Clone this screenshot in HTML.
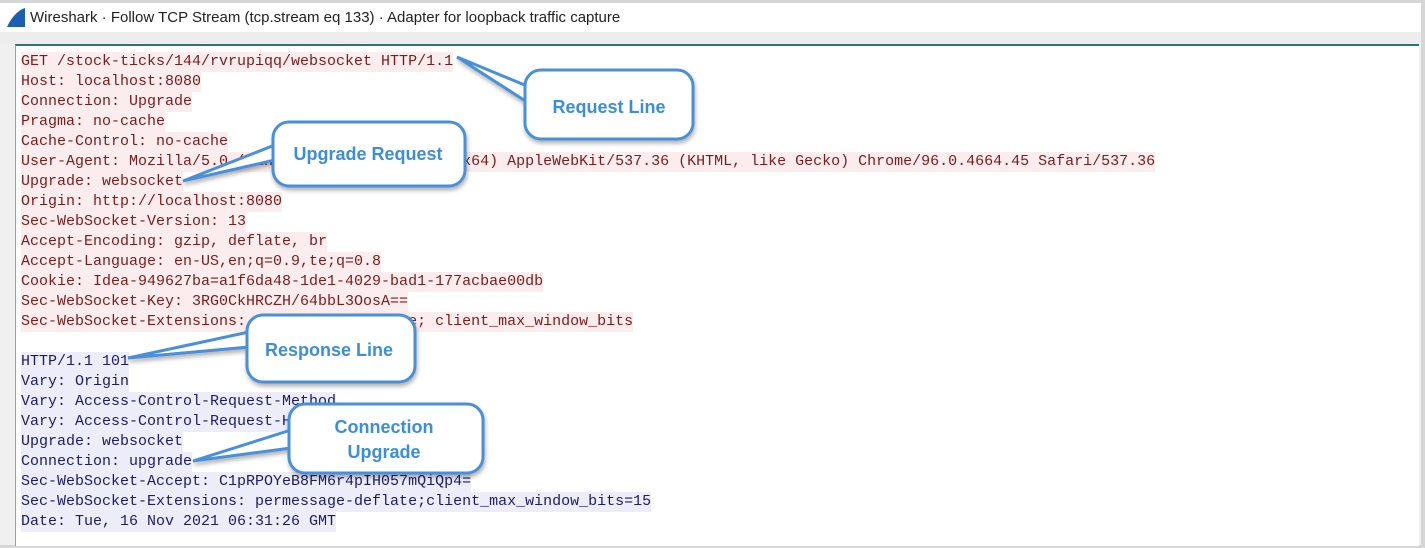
<!DOCTYPE html>
<html><head><meta charset="utf-8"><style>
html,body{margin:0;padding:0;width:1425px;height:548px;overflow:hidden;background:#d6d6d6;position:relative;font-family:"Liberation Sans",sans-serif}
#win{position:absolute;left:0;top:3px;width:1421px;height:542px;background:#f0f0f0}
#title{position:absolute;left:0;top:0;width:1421px;height:29px;background:#fff;font-size:15px;color:#222}
#title span{position:absolute;left:30px;top:6px}
#strip{position:absolute;left:0;top:29px;width:1421px;height:12px;background:#ededed}
#content{position:absolute;left:15px;top:41px;width:1403px;height:500px;background:#fff;border-top:2px solid #2f6f7f;border-left:1px solid #7aa8c8}
.ln{position:absolute;left:5px;height:20px;line-height:20px;font-family:"Liberation Mono",monospace;font-size:15px;white-space:pre}
.q{background:#fbeded;color:#7b1c1c}
.r{background:#ededf9;color:#1c1c6b}
svg{position:absolute;left:0;top:0}
</style></head><body>
<div id="win">
<div id="title"><svg width="24" height="24" style="left:4px;top:3px"><path d="M3 21 L21 21 L21 2 C14 4 7 12 3 21 Z" fill="#1a5fb4"/></svg><span>Wireshark · Follow TCP Stream (tcp.stream eq 133) · Adapter for loopback traffic capture</span></div>
<div id="strip"></div>
<div id="content">
<div class="ln q" style="top:6px">GET /stock-ticks/144/rvrupiqq/websocket HTTP/1.1</div>
<div class="ln q" style="top:26px">Host: localhost:8080</div>
<div class="ln q" style="top:46px">Connection: Upgrade</div>
<div class="ln q" style="top:66px">Pragma: no-cache</div>
<div class="ln q" style="top:86px">Cache-Control: no-cache</div>
<div class="ln q" style="top:106px">User-Agent: Mozilla/5.0 (Windows NT 10.0; Win64; x64) AppleWebKit/537.36 (KHTML, like Gecko) Chrome/96.0.4664.45 Safari/537.36</div>
<div class="ln q" style="top:126px">Upgrade: websocket</div>
<div class="ln q" style="top:146px">Origin: http://localhost:8080</div>
<div class="ln q" style="top:166px">Sec-WebSocket-Version: 13</div>
<div class="ln q" style="top:186px">Accept-Encoding: gzip, deflate, br</div>
<div class="ln q" style="top:206px">Accept-Language: en-US,en;q=0.9,te;q=0.8</div>
<div class="ln q" style="top:226px">Cookie: Idea-949627ba=a1f6da48-1de1-4029-bad1-177acbae00db</div>
<div class="ln q" style="top:246px">Sec-WebSocket-Key: 3RG0CkHRCZH/64bbL3OosA==</div>
<div class="ln q" style="top:266px">Sec-WebSocket-Extensions: permessage-deflate; client_max_window_bits</div>
<div class="ln r" style="top:306px">HTTP/1.1 101</div>
<div class="ln r" style="top:326px">Vary: Origin</div>
<div class="ln r" style="top:346px">Vary: Access-Control-Request-Method</div>
<div class="ln r" style="top:366px">Vary: Access-Control-Request-Headers</div>
<div class="ln r" style="top:386px">Upgrade: websocket</div>
<div class="ln r" style="top:406px">Connection: upgrade</div>
<div class="ln r" style="top:426px">Sec-WebSocket-Accept: C1pRPOYeB8FM6r4pIH057mQiQp4=</div>
<div class="ln r" style="top:446px">Sec-WebSocket-Extensions: permessage-deflate;client_max_window_bits=15</div>
<div class="ln r" style="top:466px">Date: Tue, 16 Nov 2021 06:31:26 GMT</div>
</div>
</div>
<svg width="1425" height="548">
<defs><filter id="sh" x="-20%" y="-20%" width="140%" height="150%"><feDropShadow dx="1" dy="3" stdDeviation="2" flood-color="#000" flood-opacity="0.3"/></filter></defs>
<g fill="#fff" stroke="#4a90d9" stroke-width="3" font-family="Liberation Sans, sans-serif" font-weight="bold" font-size="18">
<g filter="url(#sh)">
<polygon points="457,57 527,86 527,102"/>
<rect x="525" y="70" width="168" height="69" rx="16"/>
<polygon points="183,181 275,145 275,160"/>
<rect x="273" y="122" width="192" height="64" rx="16"/>
<polygon points="128,358 249,332 249,347"/>
<rect x="247" y="315" width="168" height="67" rx="16"/>
<polygon points="193,461 291,430 291,448"/>
<rect x="289" y="404" width="194" height="69" rx="16"/>
</g>
<rect x="528" y="80" width="10" height="30" stroke="none"/>
<rect x="276" y="140" width="10" height="26" stroke="none"/>
<rect x="250" y="327" width="10" height="26" stroke="none"/>
<rect x="292" y="425" width="10" height="28" stroke="none"/>
<g fill="#3b8edb" stroke="none" text-anchor="middle">
<text x="609" y="113">Request Line</text>
<text x="368" y="160">Upgrade Request</text>
<text x="329" y="356">Response Line</text>
<text x="384" y="433">Connection</text>
<text x="384" y="458">Upgrade</text>
</g>
</g>
</svg>
</body></html>
